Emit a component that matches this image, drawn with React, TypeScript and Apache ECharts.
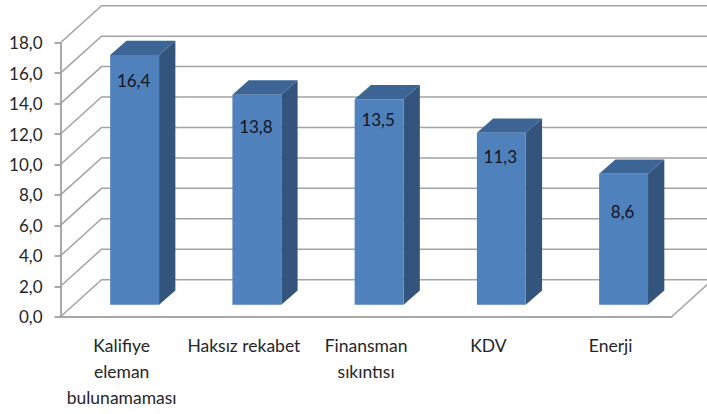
import React, { useEffect, useRef } from "react";
import * as echarts from "echarts";

const categories = ["Kalifiye\neleman\nbulunamaması", "Haksız rekabet", "Finansman\nsıkıntısı", "KDV", "Enerji"];
const values = [16.4, 13.8, 13.5, 11.3, 8.6];
const tickValues = [0, 2, 4, 6, 8, 10, 12, 14, 16, 18];
const labelShiftY = [25, 32, 20, 24, 38];
const FONT = "Lato";
const fmt = (v: number) => v.toFixed(1).replace(".", ",");

export default function App() {
  const ref = useRef<HTMLDivElement>(null);
  useEffect(() => {
    const chart = echarts.init(ref.current!, null, { renderer: "svg" });
    const lineStyle = { stroke: "#a3a3a3", lineWidth: 1.5, fill: "none" };
    chart.setOption({
      animation: false,
      backgroundColor: "#ffffff",
      grid: { left: 60.5, right: 35.3, top: 42.7, bottom: 97.3 },
      xAxis: {
        type: "category",
        data: categories,
        axisLine: { lineStyle: { color: "#8c8c8c", width: 1.5 } },
        axisTick: { length: 7, lineStyle: { color: "#8c8c8c", width: 1.5 } },
        axisLabel: { color: "#262626", fontFamily: FONT, fontSize: 17.5, lineHeight: 26, margin: 16, interval: 0 },
      },
      yAxis: {
        type: "value",
        min: 0,
        max: 18,
        interval: 2,
        splitLine: { show: false },
        axisLine: { show: true, lineStyle: { color: "#8c8c8c", width: 1.5 } },
        axisTick: { show: true, length: 6, lineStyle: { color: "#8c8c8c", width: 1.5 } },
        axisLabel: { color: "#262626", fontFamily: FONT, fontSize: 17, margin: 18, formatter: (v: number) => fmt(v) },
      },
      series: [
        {
          type: "custom",
          silent: true,
          z: 1,
          data: tickValues.map((v) => [0, v]),
          renderItem: (params: any, api: any) => {
            const v = api.value(1);
            const grid = params.coordSys;
            const y = api.coord([0, v])[1];
            const children: any[] = [
              { type: "polyline", shape: { points: [[grid.x, y], [grid.x + 41, y - 37], [707, y - 37]] }, style: lineStyle },
            ];
            if (v === 0) {
              const xr = grid.x + grid.width;
              children.push({ type: "line", shape: { x1: xr, y1: y, x2: xr + 41, y2: y - 37 }, style: lineStyle });
            }
            return { type: "group", children };
          },
        },
        {
          type: "custom",
          silent: true,
          z: 2,
          data: values.map((v, i) => [i, v]),
          renderItem: (params: any, api: any) => {
            const i = api.value(0);
            const v = api.value(1);
            const band = api.size([1, 0])[0];
            const w = band * 0.4;
            const top = api.coord([i, v]);
            const base = api.coord([i, 0]);
            const x0 = top[0] + 13 - w / 2;
            const x1 = x0 + w;
            const yT = top[1] - 12;
            const yB = base[1] - 12;
            const dx = 16.3;
            const dy = 14.3;
            return {
              type: "group",
              children: [
                { type: "polygon", shape: { points: [[x1, yT], [x1 + dx, yT - dy], [x1 + dx, yB - dy], [x1, yB]] }, style: { fill: "#33547d" } },
                { type: "polygon", shape: { points: [[x0, yT], [x0 + dx, yT - dy], [x1 + dx, yT - dy], [x1, yT]] }, style: { fill: "#3c6494" } },
                { type: "rect", shape: { x: x0, y: yT, width: w, height: yB - yT }, style: { fill: "#4f81bd" } },
                {
                  type: "text",
                  x: x0 + w / 2 - 1,
                  y: yT + labelShiftY[params.dataIndex],
                  style: { text: fmt(v), fill: "#14141f", font: `17px ${FONT}`, align: "center", verticalAlign: "middle" },
                },
              ],
            };
          },
        },
      ],
    });
    return () => chart.dispose();
  }, []);
  return <div ref={ref} style={{ position: "fixed", left: 0, top: 0, width: 707, height: 414 }} />;
}
